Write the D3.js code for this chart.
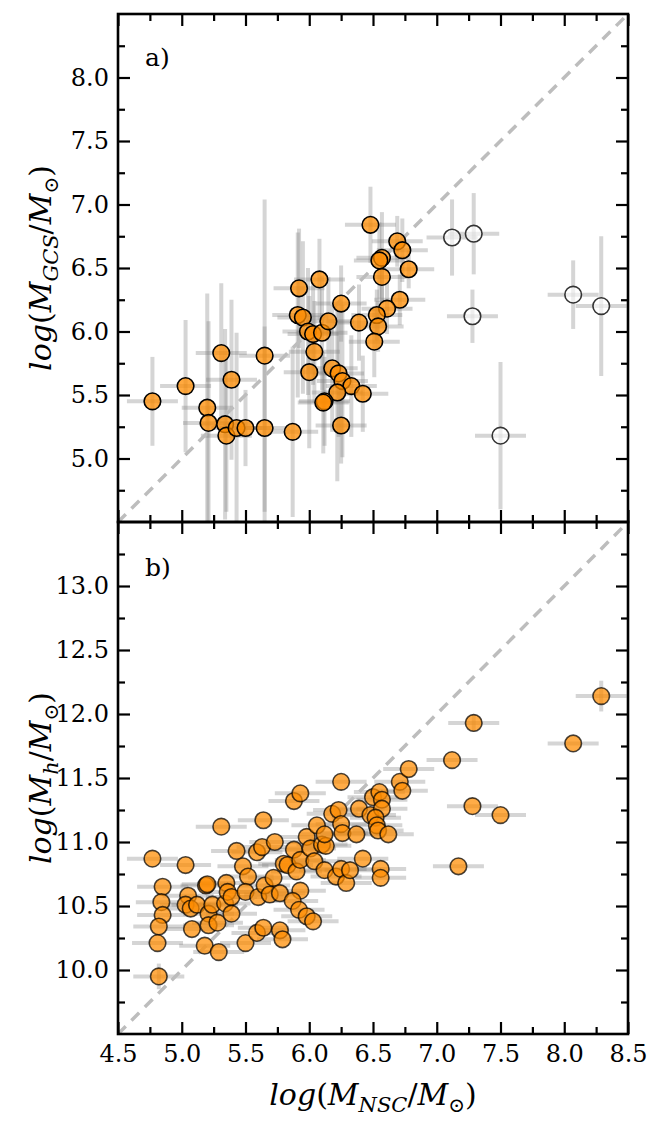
<!DOCTYPE html>
<html>
<head>
<meta charset="utf-8">
<script src="https://cdn.jsdelivr.net/npm/d3@7"></script>
<style>
  body { margin: 0; background: #fff; }
</style>
</head>
<body>
<div id="chart"></div>
<script>
// panel a: GC system mass vs NSC mass (filled = sample, open = excluded)
const gcsX    = [4.77,5.03,5.20,5.21,5.31,5.34,5.35,5.39,5.43,5.50,5.65,5.65,5.87,5.92,5.91,5.95,5.99,6.03,6.10,6.15,6.08,6.25,6.39,6.48,6.69,6.73,6.57,6.55,6.78,6.57,6.71,6.61,6.53,6.54,6.51,6.04,6.00,6.18,6.23,6.26,6.33,6.42,6.22,6.12,6.11,6.25];
const gcsY    = [5.45,5.57,5.40,5.28,5.83,5.27,5.18,5.62,5.24,5.24,5.81,5.24,5.21,6.34,6.13,6.11,6.00,5.98,5.99,6.08,6.41,6.22,6.07,6.84,6.71,6.64,6.58,6.56,6.49,6.43,6.25,6.18,6.13,6.04,5.92,5.84,5.68,5.71,5.67,5.61,5.57,5.51,5.52,5.45,5.44,5.26];
const gcsXerr = [0.2,0.2,0.2,0.2,0.2,0.2,0.2,0.2,0.2,0.2,0.2,0.2,0.2,0.2,0.2,0.2,0.2,0.2,0.2,0.2,0.2,0.2,0.2,0.2,0.2,0.2,0.2,0.2,0.2,0.2,0.2,0.2,0.2,0.2,0.2,0.2,0.2,0.2,0.2,0.2,0.2,0.2,0.2,0.2,0.2,0.2];
const gcsYerr = [0.35,0.52,0.9,0.8,0.55,0.75,0.6,0.63,0.75,0.3,1.23,0.8,0.67,0.47,0.65,0.6,0.5,0.4,0.45,0.35,0.32,0.3,0.3,0.3,0.2,0.25,0.36,0.3,0.15,0.2,0.2,0.2,0.2,0.2,0.28,0.4,0.6,0.5,0.5,0.6,0.4,0.3,0.7,0.35,0.4,0.3];

const openX    = [7.12,7.29,7.28,8.07,8.29,7.50];
const openY    = [6.74,6.77,6.12,6.29,6.20,5.18];
const openXerr = [0.2,0.2,0.2,0.2,0.2,0.2];
const openYerr = [0.3,0.32,0.21,0.27,0.55,0.58];

// panel b: halo mass vs NSC mass
const haloX = [4.77,4.85,4.84,4.85,4.82,4.81,4.82,5.03,5.05,5.03,5.07,5.08,5.12,5.19,5.20,5.21,5.21,5.18,5.24,5.28,
               5.29,5.31,5.34,5.35,5.36,5.39,5.39,5.43,5.48,5.52,5.50,5.50,5.59,5.63,5.64,5.60,5.65,5.69,5.73,5.72,
               5.77,5.59,5.64,5.77,5.79,5.80,5.83,5.88,5.93,5.88,5.90,5.93,5.93,5.87,5.92,5.98,6.03,5.98,6.01,6.04,
               6.06,6.10,6.13,6.12,6.18,6.23,6.21,6.25,6.26,6.25,6.29,6.32,6.37,6.39,6.42,6.25,6.48,6.50,6.55,6.57,
               6.57,6.52,6.53,6.54,6.62,6.56,6.56,6.71,6.73,6.78,7.12,7.29,8.07,8.29,7.28,7.50,7.17,6.12];
const haloY = [10.87,10.65,10.53,10.43,10.34,10.21,9.95,10.82,10.58,10.51,10.48,10.32,10.51,10.66,10.67,10.44,10.35,10.19,10.51,10.37,
               10.14,11.12,10.52,10.68,10.61,10.57,10.44,10.93,10.81,10.73,10.61,10.21,10.92,10.96,11.17,10.57,10.66,10.59,11.00,10.72,
               10.60,10.29,10.33,10.31,10.24,10.83,10.82,11.32,11.38,10.94,10.77,10.86,10.62,10.54,10.47,10.42,10.38,11.04,10.95,10.85,
               11.13,10.98,10.97,10.78,11.22,11.25,10.73,11.14,11.07,10.79,10.68,10.78,11.06,11.26,10.87,11.47,11.21,11.35,11.39,11.33,
               11.26,11.19,11.13,11.09,11.06,10.79,10.72,11.47,11.40,11.57,11.64,11.93,11.77,12.14,11.28,11.21,10.81,11.06];
const haloXerr = [0.2,0.2,0.2,0.2,0.2,0.2,0.2,0.2,0.2,0.2,0.2,0.2,0.2,0.2,0.2,0.2,0.2,0.2,0.2,0.2,
                  0.2,0.2,0.2,0.2,0.2,0.2,0.2,0.2,0.2,0.2,0.2,0.2,0.2,0.2,0.2,0.2,0.2,0.2,0.2,0.2,
                  0.2,0.2,0.2,0.2,0.2,0.2,0.2,0.2,0.2,0.2,0.2,0.2,0.2,0.2,0.2,0.2,0.2,0.2,0.2,0.2,
                  0.2,0.2,0.2,0.2,0.2,0.2,0.2,0.2,0.2,0.2,0.2,0.2,0.2,0.2,0.2,0.2,0.2,0.2,0.2,0.2,
                  0.2,0.2,0.2,0.2,0.2,0.2,0.2,0.2,0.2,0.2,0.2,0.2,0.2,0.2,0.2,0.2,0.2,0.2];
const haloYerr = [0,0,0,0,0,0,0.1,0,0,0,0,0,0,0,0,0,0,0,0,0,
                  0,0,0,0,0,0,0,0,0,0,0,0,0,0,0,0,0,0,0,0,
                  0,0,0,0,0,0,0,0,0,0,0,0,0,0,0,0,0,0,0,0,
                  0,0,0,0,0,0,0,0,0,0,0,0,0,0,0,0,0,0,0,0,
                  0,0,0,0,0,0,0,0,0,0,0,0.07,0,0.12,0,0,0,0];

// one-to-one lines
const diagX  = [4.5, 8.5];
const diagYa = [4.5, 8.5];
const diagYb = [9.5, 13.5];

const xTicks   = [4.5,5.0,5.5,6.0,6.5,7.0,7.5,8.0,8.5];
const xMinor   = [4.75,5.25,5.75,6.25,6.75,7.25,7.75,8.25];
const yaTicks  = [5.0,5.5,6.0,6.5,7.0,7.5,8.0];
const yaMinor  = [4.75,5.25,5.75,6.25,6.75,7.25,7.75,8.25];
const ybTicks  = [10.0,10.5,11.0,11.5,12.0,12.5,13.0];
const ybMinor  = [9.75,10.25,10.75,11.25,11.75,12.25,12.75,13.25];

const W = 664, H = 1129;
const left = 118, right = 628;
const topA = 14, midY = 522, botB = 1034;
const serif = "DejaVu Serif";

const svg = d3.select("#chart").append("svg")
  .attr("width", W).attr("height", H)
  .attr("font-family", serif);

const x = d3.scaleLinear().domain([4.5, 8.5]).range([left, right]);
const ya = d3.scaleLinear().domain([4.5, 8.5]).range([midY, topA]);
const yb = d3.scaleLinear().domain([9.5, 13.5]).range([botB, midY]);

const fmt = d3.format(".1f");
const orange = "#ff8c00";

function zip(xs, ys, xe, ye) {
  return xs.map((v, i) => ({x: v, y: ys[i], xe: xe[i], ye: ye[i]}));
}

function panel(id, top, bottom) {
  const g = svg.append("g");
  g.append("clipPath").attr("id", id)
    .append("rect").attr("x", left).attr("y", top)
    .attr("width", right - left).attr("height", bottom - top);
  const inner = g.append("g").attr("clip-path", `url(#${id})`);
  return {g, inner};
}

function errorBars(layer, data, yScale) {
  const eb = layer.append("g")
    .attr("stroke", "#808080").attr("stroke-opacity", 0.33)
    .attr("stroke-width", 4);
  eb.selectAll(".xe").data(data).enter().append("line")
    .attr("x1", d => x(d.x - d.xe)).attr("x2", d => x(d.x + d.xe))
    .attr("y1", d => yScale(d.y)).attr("y2", d => yScale(d.y));
  eb.selectAll(".ye").data(data.filter(d => d.ye > 0)).enter().append("line")
    .attr("x1", d => x(d.x)).attr("x2", d => x(d.x))
    .attr("y1", d => yScale(d.y - d.ye)).attr("y2", d => yScale(d.y + d.ye));
}

function diag(layer, yScale, ys) {
  layer.append("line")
    .attr("x1", x(diagX[0])).attr("y1", yScale(ys[0]))
    .attr("x2", x(diagX[1])).attr("y2", yScale(ys[1]))
    .attr("stroke", "#bdbdbd").attr("stroke-width", 3.5)
    .attr("stroke-dasharray", "11,8");
}

function axes(g, yScale, yTicks, yMinor, top, bottom, showX) {
  // left
  g.append("g").attr("transform", `translate(${left},0)`)
    .call(d3.axisLeft(yScale).tickValues(yTicks).tickSizeInner(-12).tickSizeOuter(0)
      .tickPadding(9).tickFormat(fmt));
  g.append("g").attr("transform", `translate(${left},0)`)
    .call(d3.axisLeft(yScale).tickValues(yMinor).tickSizeInner(-7).tickSizeOuter(0).tickFormat(""));
  // right
  g.append("g").attr("transform", `translate(${right},0)`)
    .call(d3.axisRight(yScale).tickValues(yTicks).tickSizeInner(-12).tickSizeOuter(0).tickFormat(""));
  g.append("g").attr("transform", `translate(${right},0)`)
    .call(d3.axisRight(yScale).tickValues(yMinor).tickSizeInner(-7).tickSizeOuter(0).tickFormat(""));
  // top
  g.append("g").attr("transform", `translate(0,${top})`)
    .call(d3.axisTop(x).tickValues(xTicks).tickSizeInner(-12).tickSizeOuter(0).tickFormat(""));
  g.append("g").attr("transform", `translate(0,${top})`)
    .call(d3.axisTop(x).tickValues(xMinor).tickSizeInner(-7).tickSizeOuter(0).tickFormat(""));
  // bottom
  g.append("g").attr("transform", `translate(0,${bottom})`)
    .call(d3.axisBottom(x).tickValues(xTicks).tickSizeInner(-12).tickSizeOuter(0)
      .tickPadding(11).tickFormat(showX ? fmt : ""));
  g.append("g").attr("transform", `translate(0,${bottom})`)
    .call(d3.axisBottom(x).tickValues(xMinor).tickSizeInner(-7).tickSizeOuter(0).tickFormat(""));

  g.selectAll(".domain").remove();
  g.selectAll("g").attr("font-family", serif).attr("font-size", 24);
  g.selectAll(".tick line").attr("stroke", "#000").attr("stroke-width", 2.2);
  g.selectAll(".tick text").attr("fill", "#000");

  g.append("rect").attr("x", left).attr("y", top)
    .attr("width", right - left).attr("height", bottom - top)
    .attr("fill", "none").attr("stroke", "#000").attr("stroke-width", 2.6);
}

// ---- panel a ----
const A = panel("clipA", topA, midY);
const gcsData = zip(gcsX, gcsY, gcsXerr, gcsYerr);
const openData = zip(openX, openY, openXerr, openYerr);
errorBars(A.inner, gcsData, ya);
errorBars(A.inner, openData, ya);
diag(A.inner, ya, diagYa);
A.inner.append("g").selectAll("circle").data(gcsData).enter().append("circle")
  .attr("cx", d => x(d.x)).attr("cy", d => ya(d.y)).attr("r", 8.3)
  .attr("fill", orange).attr("fill-opacity", 0.75)
  .attr("stroke", "#000").attr("stroke-width", 1.6);
A.inner.append("g").selectAll("circle").data(openData).enter().append("circle")
  .attr("cx", d => x(d.x)).attr("cy", d => ya(d.y)).attr("r", 8.3)
  .attr("fill", "#fff").attr("fill-opacity", 0.6)
  .attr("stroke", "#333").attr("stroke-width", 1.6);
axes(A.g, ya, yaTicks, yaMinor, topA, midY, false);

// ---- panel b ----
const B = panel("clipB", midY, botB);
const haloData = zip(haloX, haloY, haloXerr, haloYerr);
errorBars(B.inner, haloData, yb);
diag(B.inner, yb, diagYb);
B.inner.append("g").selectAll("circle").data(haloData).enter().append("circle")
  .attr("cx", d => x(d.x)).attr("cy", d => yb(d.y)).attr("r", 8.3)
  .attr("fill", orange).attr("fill-opacity", 0.72)
  .attr("stroke", "#000").attr("stroke-opacity", 0.72).attr("stroke-width", 1.6);
axes(B.g, yb, ybTicks, ybMinor, midY, botB, true);

// panel tags
svg.append("text").attr("x", 145).attr("y", 66)
  .attr("font-size", 25).text("a)");
svg.append("text").attr("x", 145).attr("y", 576)
  .attr("font-size", 25).text("b)");

// axis titles
function mathLabel(t, sub) {
  t.attr("font-size", 30).attr("text-anchor", "middle");
  t.append("tspan").attr("font-style", "italic").text("log");
  t.append("tspan").text("(");
  t.append("tspan").attr("font-style", "italic").text("M");
  t.append("tspan").attr("font-style", "italic").attr("font-size", 21).attr("dy", 7).text(sub);
  t.append("tspan").attr("dy", -7).text("/");
  t.append("tspan").attr("font-style", "italic").text("M");
  t.append("tspan").attr("font-size", 20).attr("dy", 7).text("\u2299");
  t.append("tspan").attr("dy", -7).text(")");
}
mathLabel(svg.append("text").attr("transform", "translate(51,268) rotate(-90)"), "GCS");
mathLabel(svg.append("text").attr("transform", "translate(51,778) rotate(-90)"), "h");
mathLabel(svg.append("text").attr("x", 373).attr("y", 1105), "NSC");
</script>
</body>
</html>
